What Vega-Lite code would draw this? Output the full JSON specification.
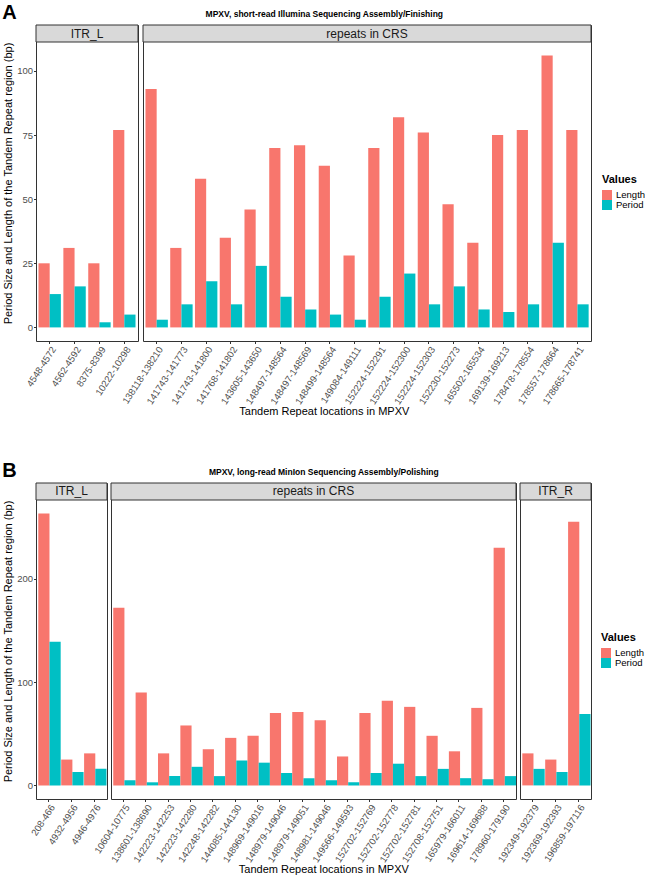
{
  "$schema": "https://vega.github.io/schema/vega-lite/v6.json",
  "padding": {"left": 2, "top": 2, "right": 0, "bottom": 2},
  "background": "white",
  "config": {
    "font": "Liberation Sans",
    "view": {"stroke": "#333333", "strokeWidth": 1},
    "axis": {"grid": false, "domain": false, "tickColor": "#333333", "tickSize": 2.5, "labelColor": "#4d4d4d", "titleColor": "#000000", "titleFontWeight": "normal", "titleFontSize": 11},
    "axisX": {"labelAngle": -57, "labelAlign": "right", "labelBaseline": "top", "labelFontSize": 9.5, "labelPadding": 1, "bandPosition": 0.5},
    "axisY": {"labelFontSize": 9.5, "labelPadding": 1, "titlePadding": 3},
    "legend": {"titleFontSize": 11, "titleFontWeight": "bold", "labelFontSize": 9.5, "symbolType": "square", "symbolSize": 100, "symbolStrokeWidth": 0, "rowPadding": 0, "labelColor": "#000000", "titleColor": "#000000"},
    "title": {"color": "#000000"}
  },
  "datasets": {
    "A": [
      {"panel": "ITR_L", "loc": "4548-4572", "Length": 25, "Period": 13},
      {"panel": "ITR_L", "loc": "4562-4592", "Length": 31, "Period": 16},
      {"panel": "ITR_L", "loc": "8375-8399", "Length": 25, "Period": 2},
      {"panel": "ITR_L", "loc": "10222-10298", "Length": 77, "Period": 5},
      {"panel": "repeats in CRS", "loc": "138118-138210", "Length": 93, "Period": 3},
      {"panel": "repeats in CRS", "loc": "141743-141773", "Length": 31, "Period": 9},
      {"panel": "repeats in CRS", "loc": "141743-141800", "Length": 58, "Period": 18},
      {"panel": "repeats in CRS", "loc": "141768-141802", "Length": 35, "Period": 9},
      {"panel": "repeats in CRS", "loc": "143605-143650", "Length": 46, "Period": 24},
      {"panel": "repeats in CRS", "loc": "148497-148564", "Length": 70, "Period": 12},
      {"panel": "repeats in CRS", "loc": "148497-148569", "Length": 71, "Period": 7},
      {"panel": "repeats in CRS", "loc": "148499-148564", "Length": 63, "Period": 5},
      {"panel": "repeats in CRS", "loc": "149084-149111", "Length": 28, "Period": 3},
      {"panel": "repeats in CRS", "loc": "152224-152291", "Length": 70, "Period": 12},
      {"panel": "repeats in CRS", "loc": "152224-152300", "Length": 82, "Period": 21},
      {"panel": "repeats in CRS", "loc": "152224-152303", "Length": 76, "Period": 9},
      {"panel": "repeats in CRS", "loc": "152230-152273", "Length": 48, "Period": 16},
      {"panel": "repeats in CRS", "loc": "165502-165534", "Length": 33, "Period": 7},
      {"panel": "repeats in CRS", "loc": "169139-169213", "Length": 75, "Period": 6},
      {"panel": "repeats in CRS", "loc": "178478-178554", "Length": 77, "Period": 9},
      {"panel": "repeats in CRS", "loc": "178557-178664", "Length": 106, "Period": 33},
      {"panel": "repeats in CRS", "loc": "178665-178741", "Length": 77, "Period": 9}
    ],
    "B": [
      {"panel": "ITR_L", "loc": "208-466", "Length": 263, "Period": 139},
      {"panel": "ITR_L", "loc": "4932-4956", "Length": 25, "Period": 13},
      {"panel": "ITR_L", "loc": "4946-4976", "Length": 31, "Period": 16},
      {"panel": "repeats in CRS", "loc": "10604-10775", "Length": 172, "Period": 5},
      {"panel": "repeats in CRS", "loc": "138601-138690", "Length": 90, "Period": 3},
      {"panel": "repeats in CRS", "loc": "142223-142253", "Length": 31, "Period": 9},
      {"panel": "repeats in CRS", "loc": "142223-142280", "Length": 58, "Period": 18},
      {"panel": "repeats in CRS", "loc": "142248-142282", "Length": 35, "Period": 9},
      {"panel": "repeats in CRS", "loc": "144085-144130", "Length": 46, "Period": 24},
      {"panel": "repeats in CRS", "loc": "148969-149016", "Length": 48, "Period": 22},
      {"panel": "repeats in CRS", "loc": "148979-149046", "Length": 70, "Period": 12},
      {"panel": "repeats in CRS", "loc": "148979-149051", "Length": 71, "Period": 7},
      {"panel": "repeats in CRS", "loc": "148981-149046", "Length": 63, "Period": 5},
      {"panel": "repeats in CRS", "loc": "149566-149593", "Length": 28, "Period": 3},
      {"panel": "repeats in CRS", "loc": "152702-152769", "Length": 70, "Period": 12},
      {"panel": "repeats in CRS", "loc": "152702-152778", "Length": 82, "Period": 21},
      {"panel": "repeats in CRS", "loc": "152702-152781", "Length": 76, "Period": 9},
      {"panel": "repeats in CRS", "loc": "152708-152751", "Length": 48, "Period": 16},
      {"panel": "repeats in CRS", "loc": "165979-166011", "Length": 33, "Period": 7},
      {"panel": "repeats in CRS", "loc": "169614-169688", "Length": 75, "Period": 6},
      {"panel": "repeats in CRS", "loc": "178960-179190", "Length": 230, "Period": 9},
      {"panel": "ITR_R", "loc": "192349-192379", "Length": 31, "Period": 16},
      {"panel": "ITR_R", "loc": "192369-192393", "Length": 25, "Period": 13},
      {"panel": "ITR_R", "loc": "196859-197116", "Length": 255, "Period": 69}
    ]
  },
  "spacing": 42,
  "resolve": {"scale": {"color": "independent"}},
  "vconcat": [
    {
      "title": {"text": "A", "anchor": "start", "fontSize": 20, "fontWeight": "bold", "offset": -13},
      "vconcat": [
        {
          "title": {"text": "MPXV, short-read Illumina Sequencing Assembly/Finishing", "anchor": "middle", "fontSize": 8.5, "fontWeight": "bold", "offset": 6},
          "vconcat": [
            {
              "title": {"text": "Tandem Repeat locations in MPXV", "orient": "bottom", "anchor": "middle", "fontSize": 11, "fontWeight": "normal", "offset": 0},
              "bounds": "flush",
              "spacing": 5,
              "resolve": {"scale": {"color": "independent"}},
              "hconcat": [
                {
                  "width": 102, "height": 316,
                  "data": {"name": "A"},
                  "transform": [{"filter": "datum.panel === 'ITR_L'"}],
                  "layer": [
                    {
                      "transform": [{"aggregate": [{"op": "count", "as": "n"}], "groupby": ["panel"]}],
                      "mark": {"type": "rect", "fill": "#d9d9d9", "stroke": "#333333", "strokeWidth": 1},
                      "encoding": {"x": {"value": 0}, "x2": {"value": "width"}, "y": {"datum": 111.3, "axis": {"values": [0, 25, 50, 75, 100], "title": "Period Size and Length of the Tandem Repeat region (bp)"}}, "y2": {"datum": 117.93}}
                    },
                    {
                      "transform": [{"aggregate": [{"op": "count", "as": "n"}], "groupby": ["panel"]}],
                      "mark": {"type": "text", "fontSize": 12, "color": "#1a1a1a", "baseline": "middle"},
                      "encoding": {"text": {"field": "panel", "type": "nominal"}, "y": {"datum": 114.6, "axis": {"values": [0, 25, 50, 75, 100], "title": "Period Size and Length of the Tandem Repeat region (bp)"}}}
                    },
                    {
                      "transform": [{"fold": ["Length", "Period"], "as": ["Values", "value"]}],
                      "mark": {"type": "bar"},
                      "encoding": {
                        "x": {"field": "loc", "type": "nominal", "sort": null, "title": null, "scale": {"paddingInner": 0.1, "paddingOuter": 0.1}},
                        "xOffset": {"field": "Values", "type": "nominal", "sort": ["Length", "Period"]},
                        "y": {"field": "value", "type": "quantitative", "scale": {"domain": [-5.3, 117.93], "nice": false}, "axis": {"values": [0, 25, 50, 75, 100], "title": "Period Size and Length of the Tandem Repeat region (bp)"}},
                        "color": {"field": "Values", "type": "nominal", "scale": {"domain": ["Length", "Period"], "range": ["#F8766D", "#00BFC4"]}, "legend": null}
                      }
                    }
                  ]
                },
                {
                  "width": 448, "height": 316,
                  "data": {"name": "A"},
                  "transform": [{"filter": "datum.panel === 'repeats in CRS'"}],
                  "layer": [
                    {
                      "transform": [{"aggregate": [{"op": "count", "as": "n"}], "groupby": ["panel"]}],
                      "mark": {"type": "rect", "fill": "#d9d9d9", "stroke": "#333333", "strokeWidth": 1},
                      "encoding": {"x": {"value": 0}, "x2": {"value": "width"}, "y": {"datum": 111.3, "axis": null}, "y2": {"datum": 117.93}}
                    },
                    {
                      "transform": [{"aggregate": [{"op": "count", "as": "n"}], "groupby": ["panel"]}],
                      "mark": {"type": "text", "fontSize": 12, "color": "#1a1a1a", "baseline": "middle"},
                      "encoding": {"text": {"field": "panel", "type": "nominal"}, "y": {"datum": 114.6, "axis": null}}
                    },
                    {
                      "transform": [{"fold": ["Length", "Period"], "as": ["Values", "value"]}],
                      "mark": {"type": "bar"},
                      "encoding": {
                        "x": {"field": "loc", "type": "nominal", "sort": null, "title": null, "scale": {"paddingInner": 0.1, "paddingOuter": 0.1}},
                        "xOffset": {"field": "Values", "type": "nominal", "sort": ["Length", "Period"]},
                        "y": {"field": "value", "type": "quantitative", "scale": {"domain": [-5.3, 117.93], "nice": false}, "axis": null},
                        "color": {"field": "Values", "type": "nominal", "scale": {"domain": ["Length", "Period"], "range": ["#F8766D", "#00BFC4"]}, "legend": {"title": "Values", "orient": "none", "legendX": 459, "legendY": 149}}
                      }
                    }
                  ]
                }
              ]
            }
          ]
        }
      ]
    },
    {
      "title": {"text": "B", "anchor": "start", "fontSize": 20, "fontWeight": "bold", "offset": -13},
      "vconcat": [
        {
          "title": {"text": "MPXV, long-read MinIon Sequencing Assembly/Polishing", "anchor": "middle", "fontSize": 8.5, "fontWeight": "bold", "offset": 6},
          "vconcat": [
            {
              "title": {"text": "Tandem Repeat locations in MPXV", "orient": "bottom", "anchor": "middle", "fontSize": 11, "fontWeight": "normal", "offset": 0},
              "bounds": "flush",
              "spacing": 4,
              "resolve": {"scale": {"color": "independent"}},
              "hconcat": [
                {
                  "width": 71, "height": 316,
                  "data": {"name": "B"},
                  "transform": [{"filter": "datum.panel === 'ITR_L'"}],
                  "layer": [
                    {
                      "transform": [{"aggregate": [{"op": "count", "as": "n"}], "groupby": ["panel"]}],
                      "mark": {"type": "rect", "fill": "#d9d9d9", "stroke": "#333333", "strokeWidth": 1},
                      "encoding": {"x": {"value": 0}, "x2": {"value": "width"}, "y": {"datum": 276.15, "axis": {"values": [0, 100, 200], "title": "Period Size and Length of the Tandem Repeat region (bp)"}}, "y2": {"datum": 292.6}}
                    },
                    {
                      "transform": [{"aggregate": [{"op": "count", "as": "n"}], "groupby": ["panel"]}],
                      "mark": {"type": "text", "fontSize": 12, "color": "#1a1a1a", "baseline": "middle"},
                      "encoding": {"text": {"field": "panel", "type": "nominal"}, "y": {"datum": 284.4, "axis": {"values": [0, 100, 200], "title": "Period Size and Length of the Tandem Repeat region (bp)"}}}
                    },
                    {
                      "transform": [{"fold": ["Length", "Period"], "as": ["Values", "value"]}],
                      "mark": {"type": "bar"},
                      "encoding": {
                        "x": {"field": "loc", "type": "nominal", "sort": null, "title": null, "scale": {"paddingInner": 0.1, "paddingOuter": 0.1}},
                        "xOffset": {"field": "Values", "type": "nominal", "sort": ["Length", "Period"]},
                        "y": {"field": "value", "type": "quantitative", "scale": {"domain": [-13.15, 292.6], "nice": false}, "axis": {"values": [0, 100, 200], "title": "Period Size and Length of the Tandem Repeat region (bp)"}},
                        "color": {"field": "Values", "type": "nominal", "scale": {"domain": ["Length", "Period"], "range": ["#F8766D", "#00BFC4"]}, "legend": null}
                      }
                    }
                  ]
                },
                {
                  "width": 405, "height": 316,
                  "data": {"name": "B"},
                  "transform": [{"filter": "datum.panel === 'repeats in CRS'"}],
                  "layer": [
                    {
                      "transform": [{"aggregate": [{"op": "count", "as": "n"}], "groupby": ["panel"]}],
                      "mark": {"type": "rect", "fill": "#d9d9d9", "stroke": "#333333", "strokeWidth": 1},
                      "encoding": {"x": {"value": 0}, "x2": {"value": "width"}, "y": {"datum": 276.15, "axis": null}, "y2": {"datum": 292.6}}
                    },
                    {
                      "transform": [{"aggregate": [{"op": "count", "as": "n"}], "groupby": ["panel"]}],
                      "mark": {"type": "text", "fontSize": 12, "color": "#1a1a1a", "baseline": "middle"},
                      "encoding": {"text": {"field": "panel", "type": "nominal"}, "y": {"datum": 284.4, "axis": null}}
                    },
                    {
                      "transform": [{"fold": ["Length", "Period"], "as": ["Values", "value"]}],
                      "mark": {"type": "bar"},
                      "encoding": {
                        "x": {"field": "loc", "type": "nominal", "sort": null, "title": null, "scale": {"paddingInner": 0.1, "paddingOuter": 0.1}},
                        "xOffset": {"field": "Values", "type": "nominal", "sort": ["Length", "Period"]},
                        "y": {"field": "value", "type": "quantitative", "scale": {"domain": [-13.15, 292.6], "nice": false}, "axis": null},
                        "color": {"field": "Values", "type": "nominal", "scale": {"domain": ["Length", "Period"], "range": ["#F8766D", "#00BFC4"]}, "legend": null}
                      }
                    }
                  ]
                },
                {
                  "width": 71, "height": 316,
                  "data": {"name": "B"},
                  "transform": [{"filter": "datum.panel === 'ITR_R'"}],
                  "layer": [
                    {
                      "transform": [{"aggregate": [{"op": "count", "as": "n"}], "groupby": ["panel"]}],
                      "mark": {"type": "rect", "fill": "#d9d9d9", "stroke": "#333333", "strokeWidth": 1},
                      "encoding": {"x": {"value": 0}, "x2": {"value": "width"}, "y": {"datum": 276.15, "axis": null}, "y2": {"datum": 292.6}}
                    },
                    {
                      "transform": [{"aggregate": [{"op": "count", "as": "n"}], "groupby": ["panel"]}],
                      "mark": {"type": "text", "fontSize": 12, "color": "#1a1a1a", "baseline": "middle"},
                      "encoding": {"text": {"field": "panel", "type": "nominal"}, "y": {"datum": 284.4, "axis": null}}
                    },
                    {
                      "transform": [{"fold": ["Length", "Period"], "as": ["Values", "value"]}],
                      "mark": {"type": "bar"},
                      "encoding": {
                        "x": {"field": "loc", "type": "nominal", "sort": null, "title": null, "scale": {"paddingInner": 0.1, "paddingOuter": 0.1}},
                        "xOffset": {"field": "Values", "type": "nominal", "sort": ["Length", "Period"]},
                        "y": {"field": "value", "type": "quantitative", "scale": {"domain": [-13.15, 292.6], "nice": false}, "axis": null},
                        "color": {"field": "Values", "type": "nominal", "scale": {"domain": ["Length", "Period"], "range": ["#F8766D", "#00BFC4"]}, "legend": {"title": "Values", "orient": "none", "legendX": 81, "legendY": 149}}
                      }
                    }
                  ]
                }
              ]
            }
          ]
        }
      ]
    }
  ]
}
